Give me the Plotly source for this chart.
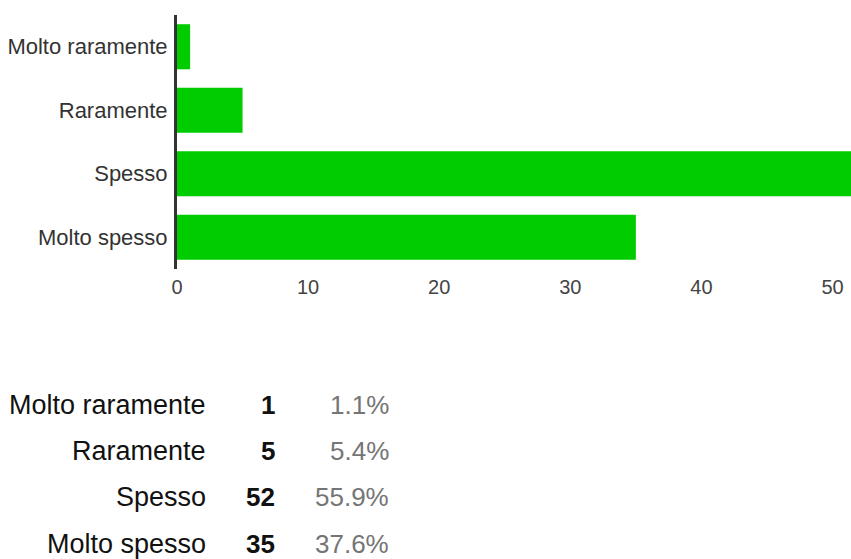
import plotly.graph_objects as go

categories = ["Molto raramente", "Raramente", "Spesso", "Molto spesso"]
counts = [1, 5, 52, 35]
x_ticks = [0, 10, 20, 30, 40, 50]

total = sum(counts)
percents = [f"{c / total * 100:.1f}%" for c in counts]

FONT = "Arial, Liberation Sans, sans-serif"
W, H = 851, 559
L, R, T = 177, 0, 15
plot_h = 254
B = H - T - plot_h
plot_w = W - L - R

fig = go.Figure(
    go.Bar(
        x=counts,
        y=categories,
        orientation="h",
        marker=dict(color="#00cc00", line=dict(width=0)),
        hoverinfo="x+y",
    )
)

fig.update_layout(
    width=W,
    height=H,
    margin=dict(l=L, r=R, t=T, b=B, pad=0),
    plot_bgcolor="white",
    paper_bgcolor="white",
    bargap=0.29,
    showlegend=False,
    font=dict(family=FONT),
)
fig.update_xaxes(
    range=[0, 51.41],
    tickvals=x_ticks,
    showgrid=False,
    zeroline=False,
    showline=False,
    ticks="",
    tickfont=dict(size=20, color="#444444", family=FONT),
    ticklabelstandoff=4,
    fixedrange=True,
)
fig.update_yaxes(
    categoryorder="array",
    categoryarray=categories,
    autorange="reversed",
    showgrid=False,
    zeroline=False,
    showline=True,
    linecolor="#333333",
    linewidth=3,
    ticks="",
    tickfont=dict(size=22, color="#333333", family=FONT),
    ticklabelstandoff=2,
    fixedrange=True,
)


def px_x(px):
    return (px - L) / plot_w


def px_y(py):
    return (H - B - py) / plot_h


row_y = [405, 451, 497, 544]
for i, cat in enumerate(categories):
    yy = px_y(row_y[i])
    fig.add_annotation(
        x=px_x(208), y=yy, xref="paper", yref="paper", xanchor="right", yanchor="middle",
        text=cat, showarrow=False, font=dict(size=27, color="#111111", family=FONT),
    )
    fig.add_annotation(
        x=px_x(277), y=yy, xref="paper", yref="paper", xanchor="right", yanchor="middle",
        text=f"<b>{counts[i]}</b>", showarrow=False, font=dict(size=26, color="#111111", family=FONT),
    )
    fig.add_annotation(
        x=px_x(391), y=yy, xref="paper", yref="paper", xanchor="right", yanchor="middle",
        text=percents[i], showarrow=False, font=dict(size=26, color="#757575", family=FONT),
    )

# remove the browser's default 8px page margin so the figure fills the window
fig.write_html(
    "out.html",
    config={"displayModeBar": False},
    post_script="document.body.style.margin='0';document.body.style.overflow='hidden';",
)
